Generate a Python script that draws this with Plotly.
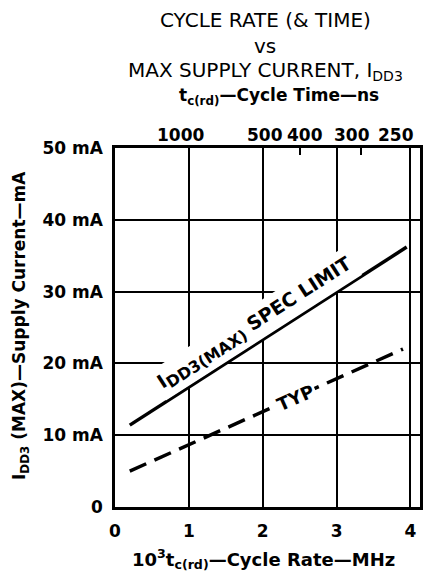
import plotly.graph_objects as go

# ---- data ----
rate_ticks = [0, 1, 2, 3, 4]                      # MHz (bottom axis)
cycle_time_ns = [1000, 500, 400, 300, 250]        # ns (top axis)
current_ticks = [0, 10, 20, 30, 40, 50]           # mA
current_labels = ["0", "10 mA", "20 mA", "30 mA", "40 mA", "50 mA"]

spec_rate = [0.2, 3.95]
spec_current = [11.4, 36.2]
typ_rate = [0.2, 3.9]
typ_current = [5.0, 22.0]

cycle_pos = [1000.0 / t for t in cycle_time_ns]
# small horizontal offsets (px) of the top labels, as in the reference
label_shift = {1000: -8, 500: 2, 400: 5, 300: -9, 250: -14}

FONT = "DejaVu Sans"
XR = [0, 4.13]
YR = [0, 50]

fig = go.Figure()
fig.add_trace(go.Scatter(x=spec_rate, y=spec_current, mode="lines",
                         line=dict(color="black", width=3.5), showlegend=False))
fig.add_trace(go.Scatter(x=typ_rate, y=typ_current, mode="lines",
                         line=dict(color="black", width=3.5, dash="18px,9px"),
                         showlegend=False))
# invisible trace for top axis
fig.add_trace(go.Scatter(x=cycle_pos, y=[None]*len(cycle_pos), xaxis="x2",
                         mode="markers", showlegend=False, hoverinfo="skip"))

bold = dict(family=FONT, size=17, color="black", weight="bold")

fig.update_layout(
    width=426, height=572,
    margin=dict(l=115, r=6, t=148, b=65),
    paper_bgcolor="white", plot_bgcolor="white",
    showlegend=False,
    xaxis=dict(range=XR, tickvals=rate_ticks, ticktext=[str(v) for v in rate_ticks],
               showgrid=True, gridcolor="black", gridwidth=2,
               showline=True, linecolor="black", linewidth=2.5, mirror=True,
               ticks="", tickfont=bold, zeroline=False, ticklabelstandoff=7,
               tickangle=0, automargin=False),
    xaxis2=dict(range=XR, overlaying="x", side="top", tickvals=cycle_pos,
                showticklabels=False, ticks="inside",
                ticklen=7, tickwidth=2, tickcolor="black", showgrid=False,
                zeroline=False, automargin=False),
    yaxis=dict(range=YR, tickvals=current_ticks, ticktext=current_labels,
               showgrid=True, gridcolor="black", gridwidth=2,
               showline=True, linecolor="black", linewidth=2.5, mirror=True,
               ticks="", tickfont=bold, zeroline=False, ticklabelstandoff=6,
               automargin=False),
)

def px_to_paper_x(px):
    return (px - 115) / 305.0

def px_to_paper_y(py):
    return (507 - py) / 359.0

# top-axis (cycle time) labels
for t, xp in zip(cycle_time_ns, cycle_pos):
    fig.add_annotation(text=str(t), x=xp, xref="x", y=px_to_paper_y(135), yref="paper",
                       xanchor="center", yanchor="middle", showarrow=False,
                       xshift=label_shift[t], font=bold)

norm = dict(family=FONT, size=20, color="black")
bold18 = dict(family=FONT, size=18, color="black", weight="bold")
annots = [
    dict(text="CYCLE RATE (&amp; TIME)", x=px_to_paper_x(265), y=px_to_paper_y(20), font=norm),
    dict(text="vs", x=px_to_paper_x(265), y=px_to_paper_y(46), font=norm),
    dict(text="MAX SUPPLY CURRENT, I<sub>DD3</sub>", x=px_to_paper_x(265), y=px_to_paper_y(71), font=norm),
    dict(text="t<sub>c(rd)</sub>\u2014Cycle Time\u2014ns", x=px_to_paper_x(279), y=px_to_paper_y(97), font=bold),
    dict(text="10<sup>3</sup>t<sub>c(rd)</sub>\u2014Cycle Rate\u2014MHz", x=px_to_paper_x(263), y=px_to_paper_y(559), font=bold18),
    dict(text="I<sub>DD3</sub> (MAX)\u2014Supply Current\u2014mA", x=px_to_paper_x(20), y=px_to_paper_y(326),
         font=bold, textangle=-90),
]
for a in annots:
    fig.add_annotation(xref="paper", yref="paper", showarrow=False,
                       xanchor="center", yanchor="middle", **a)

# in-plot labels
fig.add_annotation(text="I<sub><span style='font-size:16px'>DD3(MAX)</span></sub> SPEC LIMIT",
                   x=1.89, y=25.5, xref="x", yref="y",
                   showarrow=False, textangle=-32.7, bgcolor="white", borderpad=3,
                   font=dict(family=FONT, size=19, color="black", weight="bold"))
fig.add_annotation(text="TYP", x=2.45, y=15.3, xref="x", yref="y",
                   showarrow=False, textangle=-24, bgcolor="white", borderpad=1,
                   font=dict(family=FONT, size=18, color="black", weight="bold"))

fig.write_html("out.html", config={"displayModeBar": False},
               post_script="document.body.style.margin='0';")
